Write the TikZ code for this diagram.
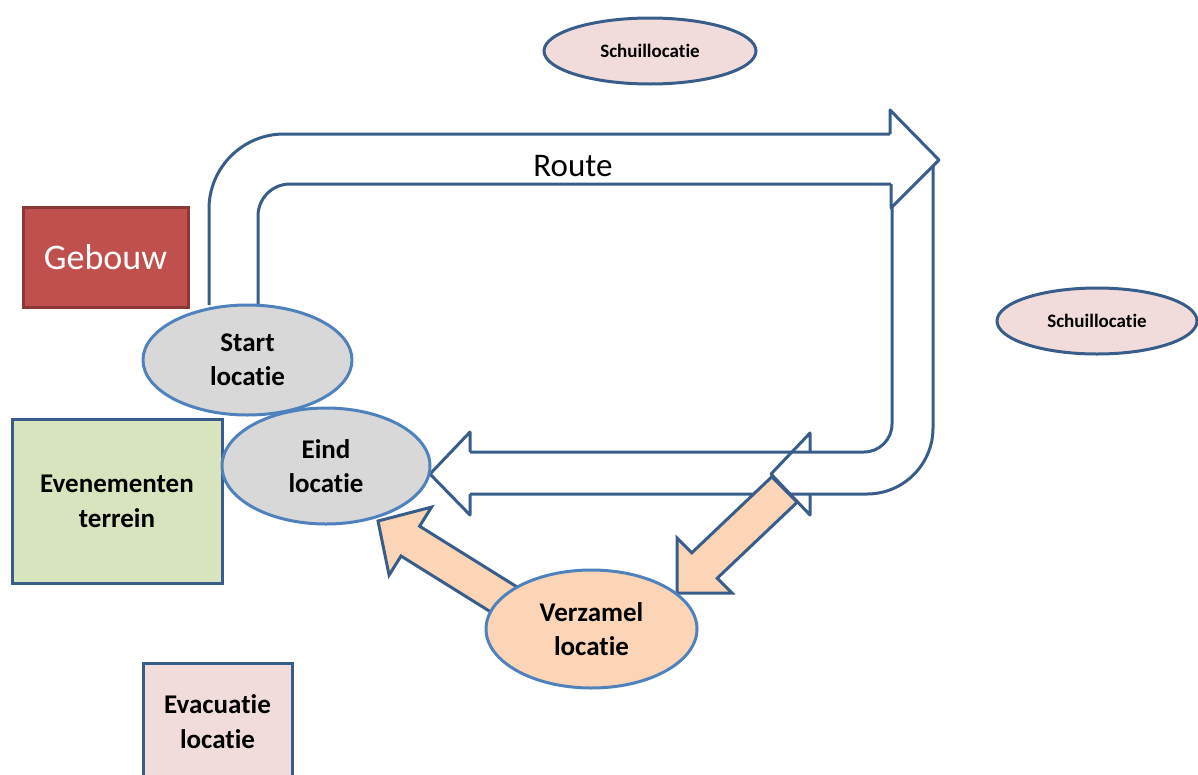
\documentclass[tikz,border=0pt]{standalone}
\usepackage{fontspec}
\setmainfont{Carlito}[Ligatures={NoCommon,NoContextual}]
\usetikzlibrary{shapes.geometric}
\definecolor{routeblue}{RGB}{56,93,138}
\definecolor{lightblue}{RGB}{79,129,189}
\definecolor{greyfill}{RGB}{216,216,216}
\definecolor{pinkfill}{RGB}{242,220,219}
\definecolor{orangefill}{RGB}{251,213,181}
\definecolor{redfill}{RGB}{192,80,77}
\definecolor{redline}{RGB}{140,56,54}
\definecolor{greenfill}{RGB}{215,228,189}
\tikzset{
  routeline/.style={draw=routeblue, line width=3pt, line join=round},
  blockarrow/.style={draw=routeblue, fill=orangefill, line width=3pt, line join=miter},
  locell/.style={ellipse, draw=lightblue, fill=greyfill, line width=3pt, inner sep=0pt, align=center,
    font=\fontsize{27}{34}\selectfont\bfseries},
  schuil/.style={ellipse, draw=routeblue, fill=pinkfill, line width=3pt, inner sep=0pt,
    font=\fontsize{19}{22}\selectfont\bfseries},
  areabox/.style={rectangle, draw=routeblue, line width=3pt, inner sep=0pt, align=center,
    font=\fontsize{27}{35}\selectfont\bfseries},
  lbl/.style={inner sep=0pt, align=center}
}
\begin{document}
\begin{tikzpicture}[x=1pt,y=-1pt]
\useasboundingbox (0,0) rectangle (1198,774);
\clip (0,0) rectangle (1198,774);

% rectangles
\node[rectangle, draw=redline, fill=redfill, line width=3pt, minimum width=165pt, minimum height=100pt,
  text=white, font=\fontsize{36}{40}\selectfont] (gebouw) at (105.5,257) {Gebouw};
\node[areabox, fill=greenfill, minimum width=210pt, minimum height=164pt] (terrein) at (117,501)
  {Evenementen\\terrein};
\node[areabox, fill=pinkfill, minimum width=149pt, minimum height=118pt] (evac) at (217.5,722)
  {Evacuatie\\locatie};

% route outline
\coordinate (rA) at (209,305);
\coordinate (rB) at (258,305);
\draw[routeline, rounded corners=75pt] (rA) -- (209,134) -- (890,134);
\draw[routeline] (890,134) -- (890,110) -- (939,160) -- (891,208) -- (891,184);
\draw[routeline, rounded corners=32pt] (891,184) -- (258,184) -- (rB);
\draw[routeline, rounded corners=28pt] (892,207) -- (892,452) -- (470,452);
\draw[routeline, rounded corners=66pt] (933,166) -- (933,494) -- (470,494);
\draw[routeline] (810,452) -- (810,433) -- (771,474) -- (810,515) -- (810,494);
\draw[routeline] (470,452) -- (470,432) -- (430,474) -- (470,515) -- (470,494);
\node[lbl, font=\fontsize{33}{36}\selectfont] (route) at (573,166) {Route};

% location ellipses
\node[locell, minimum width=209pt, minimum height=110pt] (start) at (247.5,360) {Start\\locatie};
\node[locell, minimum width=208pt, minimum height=116pt] (eind) at (326,466) {Eind\\locatie};

% orange block arrows
\draw[blockarrow] (771.8,476.8) -- (691.8,552.8) -- (677,538) -- (677,593) -- (732,593)
  -- (717.2,578.2) -- (797.2,502.2) -- cycle;
\draw[blockarrow] (521.6,589.8) -- (419.6,526.2) -- (431.5,507.1) -- (378,521) -- (389.1,575.1)
  -- (401.0,556.0) -- (503.0,619.6) -- cycle;

\node[locell, fill=orangefill, minimum width=211pt, minimum height=118pt] (verzamel) at (591.5,629)
  {Verzamel\\locatie};

% schuillocaties
\node[schuil, minimum width=212pt, minimum height=66pt] (schuil1) at (650,51) {Schuillocatie};
\node[schuil, minimum width=200pt, minimum height=66pt] (schuil2) at (1097,321) {Schuillocatie};
\end{tikzpicture}
\end{document}
